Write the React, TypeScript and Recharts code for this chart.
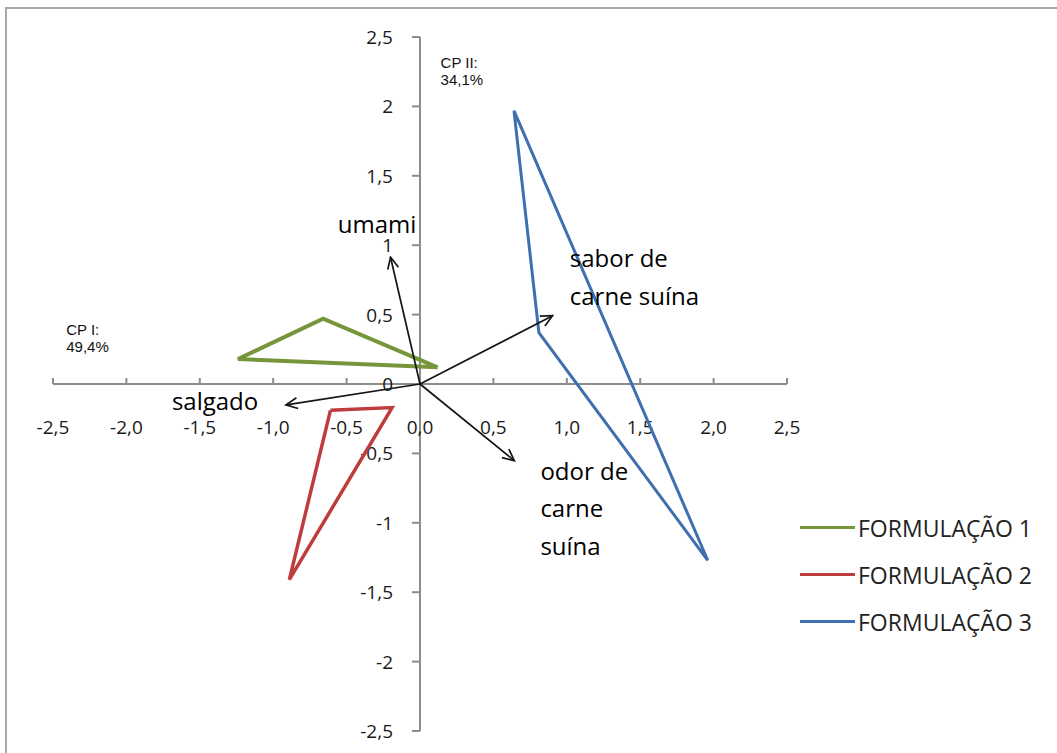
import { ScatterChart, Scatter, XAxis, YAxis, ReferenceLine } from 'recharts';

const seriesNames = ['FORMULAÇÃO 1', 'FORMULAÇÃO 2', 'FORMULAÇÃO 3'];
const seriesColors = ['#77953a', '#be3d3c', '#3f6fae'];

// each triangle closed by repeating its first vertex
const formulacao1 = [
    { x: 0.12, y: 0.12 }, { x: -1.24, y: 0.18 }, { x: -0.66, y: 0.47 }, { x: 0.12, y: 0.12 },
];
const formulacao2 = [
    { x: -0.61, y: -0.19 }, { x: -0.19, y: -0.17 }, { x: -0.89, y: -1.41 }, { x: -0.61, y: -0.19 },
];
const formulacao3 = [
    { x: 0.64, y: 1.97 }, { x: 0.81, y: 0.37 }, { x: 1.96, y: -1.27 }, { x: 0.64, y: 1.97 },
];

// attribute loadings (arrow tips, arrows start at origin)
const attributeX = [-0.20, 0.90, 0.64, -0.91];
const attributeY = [0.91, 0.49, -0.55, -0.15];

const xTicks = [-2.5, -2, -1.5, -1, -0.5, 0, 0.5, 1, 1.5, 2, 2.5];
const xTickLabels = ['-2,5', '-2,0', '-1,5', '-1,0', '-0,5', '0,0', '0,5', '1,0', '1,5', '2,0', '2,5'];
const yTicks = [2.5, 2, 1.5, 1, 0.5, 0, -0.5, -1, -1.5, -2, -2.5];
const yTickLabels = ['2,5', '2', '1,5', '1', '0,5', '0', '-0,5', '-1', '-1,5', '-2', '-2,5'];

const attributeLabelLines = [['umami'], ['sabor de', 'carne suína'], ['odor de', 'carne', 'suína'], ['salgado']];
const attributeLabelX = [-0.56, 1.02, 0.82, -1.69];
const attributeLabelY = [1.09, 0.84, -0.69, -0.19];

const axisNoteLines = [['CP II:', '34,1%'], ['CP I:', '49,4%']];
const axisNoteX = [0.14, -2.41];
const axisNoteY = [2.28, 0.35];

const AXIS = '#8c8c8c';
const FONT = '"Open Sans", sans-serif';

const formulations = [formulacao1, formulacao2, formulacao3];
const lineWidths = [4, 3.5, 3];

const arrows = attributeX.map((x, i) => [{ x: 0, y: 0 }, { x, y: attributeY[i] }]);
const xTickData = xTicks.map((x, i) => ({ x, y: 0, label: xTickLabels[i] }));
const yTickData = yTicks.map((y, i) => ({ x: 0, y, label: yTickLabels[i] }));
const attributeLabels = attributeLabelLines.map((lines, i) => ({ x: attributeLabelX[i], y: attributeLabelY[i], lines }));
const axisNotes = axisNoteLines.map((lines, i) => ({ x: axisNoteX[i], y: axisNoteY[i], lines }));

const Empty = () => <g />;

const ArrowLine = (p: any) => {
    const pts = p.points || [];
    if (pts.length < 2) return <g />;
    const a = pts[0], b = pts[1];
    const ax = a.x ?? a.cx, ay = a.y ?? a.cy, bx = b.x ?? b.cx, by = b.y ?? b.cy;
    return <path d={`M${ax},${ay}L${bx},${by}`} stroke="#151515" strokeWidth={1.7} fill="none" markerEnd="url(#arrowHead)" />;
};

const XTick = (props: any) => {
    const { cx, cy, payload } = props;
    return (
        <g>
            <line x1={cx} x2={cx} y1={cy} y2={cy - 6} stroke={AXIS} strokeWidth={2} />
            <text x={cx} y={cy + 43} textAnchor="middle" dominantBaseline="central" fontFamily={FONT} fontSize={19} fill="#1a1a1a">{payload.label}</text>
        </g>
    );
};

const YTick = (props: any) => {
    const { cx, cy, payload } = props;
    return (
        <g>
            <line x1={cx - 8} x2={cx} y1={cy} y2={cy} stroke={AXIS} strokeWidth={2} />
            <text x={cx - 27} y={cy} textAnchor="end" dominantBaseline="central" fontFamily={FONT} fontSize={19} fill="#1a1a1a">{payload.label}</text>
        </g>
    );
};

const BigLabel = (props: any) => {
    const { cx, cy, payload } = props;
    return (
        <text x={cx} y={cy} fontFamily={FONT} fontSize={24} fill="#000">
            {payload.lines.map((l: string, i: number) => (
                <tspan key={i} x={cx} dy={i === 0 ? 0 : 37.5}>{l}</tspan>
            ))}
        </text>
    );
};

const SmallNote = (props: any) => {
    const { cx, cy, payload } = props;
    return (
        <text x={cx} y={cy} fontFamily='"Liberation Sans", Arial, sans-serif' fontSize={15} fill="#111">
            {payload.lines.map((l: string, i: number) => (
                <tspan key={i} x={cx} dy={i === 0 ? 0 : 17}>{l}</tspan>
            ))}
        </text>
    );
};

export default function App() {
    return (
        <div style={{ position: 'relative', width: 1057, height: 753, overflow: 'hidden', background: '#fff' }}>
            <style>{'body{margin:0}'}</style>
            <div style={{ position: 'absolute', left: 5, top: 7, width: 1100, height: 800, border: '2px solid #a8a8a8' }} />
            <div style={{ position: 'absolute', left: 0, top: 0 }}>
                <ScatterChart width={1057} height={753} margin={{ top: 37, right: 270, bottom: 22, left: 53 }}>
                    <defs>
                        <marker id="arrowHead" viewBox="0 0 14 14" refX="12" refY="7" markerWidth="14" markerHeight="14" markerUnits="userSpaceOnUse" orient="auto">
                            <path d="M1,1.5 L12.5,7 L1,12.5" fill="none" stroke="#151515" strokeWidth={1.7} />
                        </marker>
                    </defs>
                    <XAxis type="number" dataKey="x" domain={[-2.5, 2.5]} hide />
                    <YAxis type="number" dataKey="y" domain={[-2.5, 2.5]} hide />
                    <ReferenceLine y={0} stroke={AXIS} strokeWidth={2} />
                    <ReferenceLine x={0} stroke={AXIS} strokeWidth={2} />
                    <Scatter data={xTickData} shape={XTick} isAnimationActive={false} />
                    <Scatter data={yTickData} shape={YTick} isAnimationActive={false} />
                    {formulations.map((d, i) => (
                        <Scatter key={seriesNames[i]} name={seriesNames[i]} data={d} fill={seriesColors[i]}
                            line={{ stroke: seriesColors[i], strokeWidth: lineWidths[i] }}
                            shape={Empty} isAnimationActive={false} />
                    ))}
                    {arrows.map((d, i) => (
                        <Scatter key={'arrow' + i} data={d} line={ArrowLine} shape={Empty} isAnimationActive={false} />
                    ))}
                    <Scatter data={attributeLabels} shape={BigLabel} isAnimationActive={false} />
                    <Scatter data={axisNotes} shape={SmallNote} isAnimationActive={false} />
                </ScatterChart>
            </div>
            <div style={{ position: 'absolute', left: 800, top: 504, fontFamily: FONT, fontSize: 23, color: '#222' }}>
                {seriesNames.map((n, i) => (
                    <div key={n} style={{ display: 'flex', alignItems: 'center', height: 47 }}>
                        <div style={{ width: 55, height: 3, background: seriesColors[i], marginRight: 3 }} />
                        <span>{n}</span>
                    </div>
                ))}
            </div>
        </div>
    );
}
